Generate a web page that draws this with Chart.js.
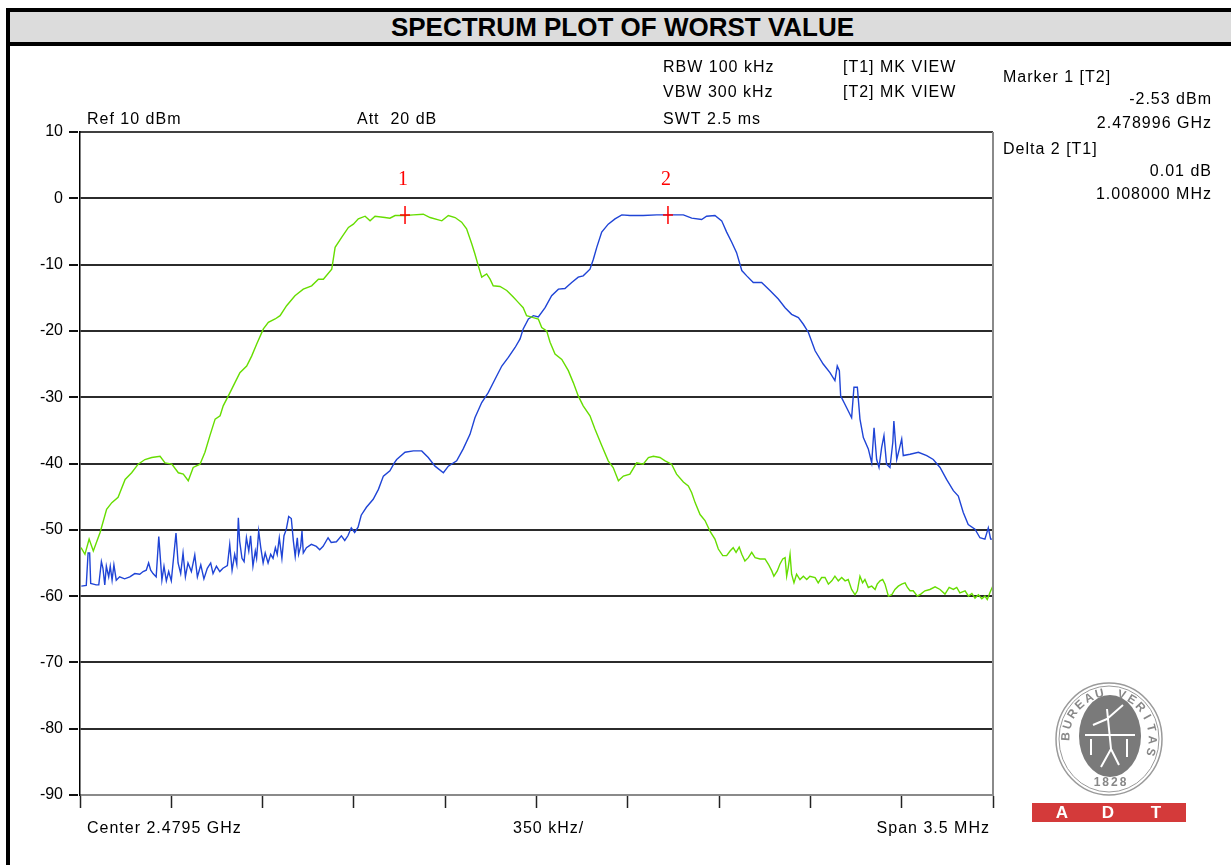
<!DOCTYPE html>
<html>
<head>
<meta charset="utf-8">
<script src="https://cdn.jsdelivr.net/npm/chart.js@4.4.1/dist/chart.umd.min.js"></script>
<style>
  html, body { margin: 0; padding: 0; background: #fff; overflow: hidden; }
  #frame { position: absolute; left: 6px; top: 8px; width: 1225px; height: 900px; border: 4px solid #000; border-bottom: none; }
  #title { position: absolute; left: 0; top: 0; right: 0; height: 30px; background: #dcdcdc; border-bottom: 4px solid #000;
           font: bold 26px "Liberation Sans", Arial, sans-serif; line-height: 31px; text-align: center; color: #000; }
  #spec { position: absolute; left: 0; top: 0; }
</style>
</head>
<body>
<div id="frame"><div id="title">SPECTRUM PLOT OF WORST VALUE</div></div>
<canvas id="spec" width="1231" height="865"></canvas>
<script>
// sweep settings (frequency offsets in kHz from start of span)
const centerGHz = 2.4795
const spanKHz = 3500
const divKHz = 350
const levelTicks = [10, 0, -10, -20, -30, -40, -50, -60, -70, -80, -90]

// trace 1 (green)
const greenFreq = [
  4, 19, 35, 51, 77, 102, 122, 146, 173, 198,
  223, 249, 275, 307, 326, 352, 377, 396, 415, 434,
  460, 479, 498, 518, 537, 549, 575, 594, 613, 639,
  658, 677, 703, 722, 748, 767, 792, 824, 856, 888,
  914, 933, 965, 978, 1003, 1029, 1048, 1067, 1093, 1112,
  1131, 1169, 1188, 1208, 1246, 1278, 1316, 1342, 1387, 1412,
  1438, 1463, 1482, 1502, 1514, 1527, 1540, 1559, 1572, 1584,
  1610, 1636, 1661, 1680, 1699, 1712, 1738, 1757, 1770, 1789,
  1802, 1821, 1847, 1872, 1891, 1910, 1929, 1955, 1974, 2000,
  2025, 2044, 2064, 2083, 2108, 2134, 2159, 2179, 2198, 2223,
  2243, 2268, 2287, 2313, 2332, 2345, 2358, 2377, 2396, 2415,
  2434, 2447, 2464, 2479, 2492, 2504, 2515, 2527, 2537, 2549,
  2562, 2575, 2588, 2607, 2626, 2639, 2652, 2660, 2673, 2683,
  2694, 2703, 2709, 2715, 2722, 2728, 2737, 2747, 2760, 2773,
  2786, 2798, 2818, 2830, 2843, 2856, 2869, 2882, 2894, 2907,
  2920, 2933, 2945, 2958, 2971, 2980, 2990, 3000, 3009, 3022,
  3035, 3048, 3056, 3067, 3077, 3086, 3099, 3112, 3124, 3137,
  3150, 3163, 3172, 3182, 3194, 3210, 3223, 3239, 3258, 3278,
  3297, 3316, 3332, 3348, 3361, 3373, 3393, 3406, 3419, 3431,
  3444, 3457, 3469, 3478, 3488, 3499
]
const greenLevel = [
  -52.7, -53.7, -51.4, -53.2, -50.4, -46.9, -45.9, -45.1, -42.4, -41.4,
  -40.1, -39.4, -39.1, -38.9, -39.9, -40.1, -41.4, -41.6, -42.6, -40.6,
  -40.1, -38.3, -35.8, -33.3, -32.8, -31.3, -29.3, -27.8, -26.3, -25.3,
  -23.8, -22.0, -19.7, -18.7, -18.2, -17.7, -16.2, -14.7, -13.7, -13.2,
  -12.2, -12.2, -10.7, -7.4, -5.9, -4.4, -3.9, -3.1, -2.7, -3.4,
  -2.7, -2.9, -3.0, -2.6, -2.6, -2.5, -2.4, -2.9, -3.4, -2.6,
  -2.9, -3.6, -4.6, -6.9, -8.4, -10.2, -11.9, -11.4, -12.2, -13.2,
  -13.3, -13.9, -14.9, -15.7, -16.5, -17.7, -18.0, -18.2, -19.5, -20.0,
  -21.7, -23.5, -24.3, -26.0, -27.8, -29.8, -31.3, -32.8, -34.8, -37.3,
  -39.6, -40.6, -42.6, -41.9, -41.6, -39.9, -40.1, -39.1, -38.9, -39.1,
  -39.6, -40.1, -41.6, -42.8, -43.4, -44.4, -45.9, -47.7, -48.6, -50.2,
  -51.4, -52.9, -53.9, -53.9, -53.2, -52.7, -53.4, -52.6, -53.7, -54.7,
  -54.2, -53.4, -54.2, -54.4, -54.4, -55.2, -56.2, -57.0, -56.2, -55.2,
  -54.4, -54.2, -57.0, -55.7, -53.7, -56.7, -58.0, -56.7, -57.5, -57.0,
  -57.5, -57.0, -57.2, -58.0, -57.2, -57.2, -58.2, -57.7, -57.0, -57.7,
  -57.2, -57.7, -57.5, -59.0, -59.8, -59.2, -57.0, -58.0, -57.5, -58.7,
  -58.5, -59.0, -58.2, -57.7, -57.5, -58.2, -60.0, -59.8, -59.0, -58.5,
  -58.2, -58.0, -58.7, -59.2, -59.2, -60.0, -59.7, -59.2, -59.0, -58.6,
  -59.0, -59.7, -58.7, -59.0, -58.7, -59.5, -59.2, -60.0, -59.6, -60.3,
  -59.8, -60.4, -60.0, -60.5, -59.5, -58.5
]

// trace 2 (blue)
const blueFreq = [
  5, 24, 31, 37, 41, 62, 72, 82, 88, 95,
  101, 110, 116, 123, 130, 139, 152, 171, 191, 210,
  229, 242, 254, 263, 271, 280, 292, 302, 307, 314,
  322, 331, 340, 350, 360, 368, 376, 386, 395, 404,
  414, 427, 440, 450, 463, 475, 488, 501, 510, 523,
  536, 548, 565, 574, 583, 593, 601, 607, 612, 621,
  629, 638, 647, 654, 663, 672, 677, 685, 693, 702,
  710, 721, 731, 740, 749, 756, 764, 774, 782, 791,
  800, 810, 818, 825, 833, 838, 846, 851, 856, 868,
  887, 906, 919, 932, 951, 963, 983, 1002, 1015, 1027,
  1040, 1053, 1066, 1078, 1098,
  1124, 1144, 1163, 1188, 1205, 1214, 1246, 1278, 1310, 1335,
  1361, 1393, 1412, 1444, 1469, 1495, 1514, 1540, 1565, 1591,
  1617, 1642, 1668, 1687, 1699, 1719, 1738, 1757, 1783, 1808,
  1834, 1859, 1885, 1910, 1929, 1955, 1968, 1981, 2000, 2025,
  2051, 2077, 2108, 2159, 2211, 2255, 2313, 2345, 2383, 2402,
  2434, 2460, 2479, 2498, 2517, 2537, 2556, 2581, 2613, 2645,
  2677, 2703, 2728, 2754, 2773, 2792, 2818, 2849, 2875, 2894,
  2903, 2911, 2916, 2939, 2958, 2967, 2980, 2990, 3003, 3022,
  3035, 3044, 3054, 3063, 3073, 3082, 3092, 3105, 3116, 3120,
  3131, 3141, 3150, 3156, 3182, 3214, 3246, 3271, 3297, 3322,
  3348, 3367, 3386, 3405, 3431, 3450, 3469, 3482, 3491, 3499
]
const blueLevel = [
  -58.5, -58.4, -53.5, -53.5, -58.1, -58.3, -58.3, -54.8, -55.8, -58.3,
  -55.5, -57.1, -55.5, -57.6, -55.3, -57.6, -57.1, -57.4, -57.1, -56.6,
  -56.7, -56.3, -56.1, -55.0, -56.1, -56.6, -57.1, -51.0, -53.7, -57.6,
  -55.5, -57.7, -56.3, -57.7, -53.7, -50.5, -55.0, -56.6, -53.5, -57.1,
  -55.0, -56.3, -53.8, -57.1, -55.3, -57.4, -55.8, -55.0, -56.6, -55.5,
  -56.3, -55.8, -55.4, -52.2, -56.1, -53.7, -55.2, -48.2, -51.7, -54.3,
  -54.8, -51.2, -53.2, -50.9, -55.5, -53.2, -54.3, -50.2, -52.7, -55.0,
  -53.5, -55.0, -53.7, -54.3, -52.7, -53.7, -51.2, -54.3, -50.9, -49.9,
  -48.0, -48.3, -51.7, -54.0, -51.2, -53.7, -52.5, -50.2, -53.5, -52.7,
  -52.2, -52.5, -53.0, -52.5, -51.2, -51.9, -51.8, -50.9, -51.6, -50.9,
  -49.7, -50.4, -49.6, -47.8, -46.6,
  -45.4, -43.9, -41.9, -41.1, -39.9, -39.4, -38.3, -38.1, -38.1, -39.1,
  -40.4, -41.4, -40.4, -39.6, -37.8, -35.6, -33.1, -30.8, -29.3, -27.3,
  -25.3, -24.0, -22.5, -21.2, -19.7, -18.2, -17.7, -17.9, -16.5, -14.7,
  -13.7, -13.6, -12.7, -11.9, -11.7, -10.7, -9.2, -7.4, -5.1, -3.9,
  -3.1, -2.5, -2.6, -2.6, -2.5, -2.5, -2.5, -3.0, -3.2, -2.7,
  -2.6, -3.4, -5.1, -6.6, -8.2, -10.9, -11.7, -12.7, -12.7, -13.9,
  -15.2, -16.5, -17.5, -18.0, -19.0, -20.2, -23.0, -25.0, -26.3, -27.5,
  -25.3, -26.0, -29.8, -31.6, -33.1, -28.5, -28.5, -33.3, -36.1, -37.8,
  -39.9, -34.6, -39.4, -40.6, -37.6, -35.8, -40.1, -40.6, -36.8, -33.6,
  -39.4, -37.8, -36.3, -38.8, -38.6, -38.3, -38.8, -39.4, -40.6, -42.4,
  -44.1, -44.9, -47.4, -49.2, -49.9, -51.2, -51.4, -49.7, -51.4, -51.4
]

// markers
const markerLabel = ['1', '2']
const markerFreq = [1246, 2254]
const markerLevel = [-2.53, -2.52]

const toXY = (fs, ls) => fs.map((f, i) => ({ x: f, y: ls[i] }))

const startMHz = centerGHz * 1000 - spanKHz / 2000
const m1GHz = (startMHz + markerFreq[0] / 1000) / 1000
const deltaDb = markerLevel[1] - markerLevel[0]
const deltaMHz = (markerFreq[1] - markerFreq[0]) / 1000

const TXT = '16px "Liberation Sans", Arial, sans-serif'

const texts = [
  ['Ref 10 dBm', 87, 120, 'left'],
  ['Att  20 dB', 357, 120, 'left'],
  ['RBW 100 kHz', 663, 68, 'left'],
  ['VBW 300 kHz', 663, 93, 'left'],
  ['SWT 2.5 ms', 663, 120, 'left'],
  ['[T1] MK VIEW', 843, 68, 'left'],
  ['[T2] MK VIEW', 843, 93, 'left'],
  ['Marker 1 [T2]', 1003, 78, 'left'],
  [markerLevel[0].toFixed(2) + ' dBm', 1212, 100, 'right'],
  [m1GHz.toFixed(6) + ' GHz', 1212, 124, 'right'],
  ['Delta 2 [T1]', 1003, 150, 'left'],
  [deltaDb.toFixed(2) + ' dB', 1212, 172, 'right'],
  [deltaMHz.toFixed(6) + ' MHz', 1212, 195, 'right'],
  ['Center ' + centerGHz + ' GHz', 87, 829, 'left'],
  [divKHz + ' kHz/', 513, 829, 'left'],
  ['Span ' + (spanKHz / 1000) + ' MHz', 990, 829, 'right']
]

const annot = {
  id: 'annot',
  afterDraw(chart) {
    const ctx = chart.ctx
    const a = chart.chartArea
    const xs = chart.scales.x, ys = chart.scales.y
    ctx.save()
    // top and right frame of the plot
    ctx.strokeStyle = '#000'
    ctx.lineWidth = 1.5
    ctx.beginPath(); ctx.moveTo(a.left, a.top); ctx.lineTo(a.right, a.top); ctx.stroke()
    ctx.strokeStyle = '#8a8a8a'
    ctx.lineWidth = 2
    ctx.beginPath(); ctx.moveTo(a.right, a.top); ctx.lineTo(a.right, a.bottom); ctx.stroke()

    // short level ticks left of the plot, with a small gap
    ctx.fillStyle = '#111'
    levelTicks.forEach(v => {
      const py = Math.round(ys.getPixelForValue(v))
      ctx.fillRect(a.left - 11, py - 1, 9, 2)
    })

    // markers
    ctx.strokeStyle = '#ff0000'
    ctx.fillStyle = '#ff0000'
    ctx.lineWidth = 1.5
    ctx.font = '20px "Liberation Serif", serif'
    ctx.textAlign = 'center'
    ctx.textBaseline = 'middle'
    markerFreq.forEach((f, i) => {
      const px = xs.getPixelForValue(f), py = ys.getPixelForValue(markerLevel[i])
      ctx.beginPath()
      ctx.moveTo(px, py - 9); ctx.lineTo(px, py + 9)
      ctx.moveTo(px - 5, py); ctx.lineTo(px + 5, py)
      ctx.stroke()
      ctx.fillText(markerLabel[i], px - 2, py - 35)
    })

    // instrument texts
    ctx.fillStyle = '#000'
    ctx.font = TXT
    ctx.letterSpacing = '1px'
    texts.forEach(t => {
      ctx.textAlign = t[3]
      ctx.fillText(t[0], t[1], t[2])
    })
    ctx.letterSpacing = '0px'

    // logo
    ctx.textAlign = 'center'
    const cx = 1109, cy = 739
    ctx.strokeStyle = '#9a9a9a'
    ctx.lineWidth = 1.5
    ctx.beginPath(); ctx.ellipse(cx, cy, 53, 56, 0, 0, Math.PI * 2); ctx.stroke()
    ctx.lineWidth = 1
    ctx.beginPath(); ctx.ellipse(cx, cy, 50, 53, 0, 0, Math.PI * 2); ctx.stroke()
    ctx.fillStyle = '#7a7a7a'
    ctx.beginPath(); ctx.ellipse(cx + 1, cy - 3, 31, 41, 0, 0, Math.PI * 2); ctx.fill()
    ctx.strokeStyle = '#fff'
    ctx.lineWidth = 2
    ctx.beginPath()
    ctx.moveTo(cx - 24, cy - 4); ctx.lineTo(cx + 26, cy - 4)
    ctx.moveTo(cx - 2, cy - 30); ctx.lineTo(cx + 2, cy + 10); ctx.lineTo(cx - 8, cy + 28)
    ctx.moveTo(cx + 2, cy + 10); ctx.lineTo(cx + 10, cy + 26)
    ctx.moveTo(cx - 2, cy - 20); ctx.lineTo(cx + 14, cy - 34)
    ctx.moveTo(cx - 2, cy - 20); ctx.lineTo(cx - 16, cy - 14)
    ctx.moveTo(cx - 18, cy); ctx.lineTo(cx - 18, cy + 16)
    ctx.moveTo(cx + 18, cy); ctx.lineTo(cx + 18, cy + 18)
    ctx.stroke()
    ctx.fillStyle = '#888'
    ctx.font = 'bold 12px "Liberation Sans", Arial, sans-serif'
    const ring = 'BUREAU VERITAS'
    const t0 = 183 * Math.PI / 180, t1 = 376 * Math.PI / 180
    for (let i = 0; i < ring.length; i++) {
      const t = t0 + (t1 - t0) * i / (ring.length - 1)
      ctx.save()
      ctx.translate(cx + 43 * Math.cos(t), cy + 46 * Math.sin(t))
      ctx.rotate(t + Math.PI / 2)
      ctx.fillText(ring[i], 0, 0)
      ctx.restore()
    }
    ctx.letterSpacing = '2px'
    ctx.fillText('1828', cx + 2, cy + 44)
    ctx.letterSpacing = '0px'
    ctx.fillStyle = '#d43a3a'
    ctx.fillRect(1032, 803, 154, 19)
    ctx.fillStyle = '#fff'
    ctx.font = 'bold 17px "Liberation Sans", Arial, sans-serif'
    ctx.fillText('A', 1062, 813)
    ctx.fillText('D', 1108, 813)
    ctx.fillText('T', 1156, 813)
    ctx.restore()
  }
}

const spec = new Chart(
  document.getElementById('spec'),
  {
    type: 'line',
    data: {
      datasets: [{
        label: 'T1',
        data: toXY(greenFreq, greenLevel),
        borderColor: '#66dd00',
        borderWidth: 1.4,
        pointRadius: 0,
        tension: 0
      }, {
        label: 'T2',
        data: toXY(blueFreq, blueLevel),
        borderColor: '#1f44d6',
        borderWidth: 1.4,
        pointRadius: 0,
        tension: 0
      }]
    },
    options: {
      responsive: false,
      animation: false,
      layout: { padding: { top: 132, right: 238, bottom: 0, left: 0 } },
      plugins: { legend: { display: false }, tooltip: { enabled: false } },
      scales: {
        x: {
          type: 'linear',
          min: 0,
          max: spanKHz,
          ticks: { display: false, stepSize: divKHz },
          grid: { drawOnChartArea: false, drawTicks: true, tickLength: 13, tickColor: '#222', tickWidth: 1.5 },
          border: { color: '#8a8a8a', width: 2 },
          afterFit: s => { s.height = 70 }
        },
        y: {
          min: levelTicks[levelTicks.length - 1],
          max: levelTicks[0],
          afterBuildTicks: s => { s.ticks = levelTicks.map(v => ({ value: v })) },
          ticks: { color: '#000', font: { family: 'Liberation Sans', size: 16 }, padding: 17 },
          grid: {
            color: c => (c.tick.value === 10 || c.tick.value === -90) ? 'rgba(0,0,0,0)' : '#2b2b2b',
            lineWidth: 2,
            drawTicks: false
          },
          border: { color: '#000', width: 1.5 },
          afterFit: s => { s.width = 80 }
        }
      }
    },
    plugins: [annot]
  }
)
</script>
</body>
</html>
